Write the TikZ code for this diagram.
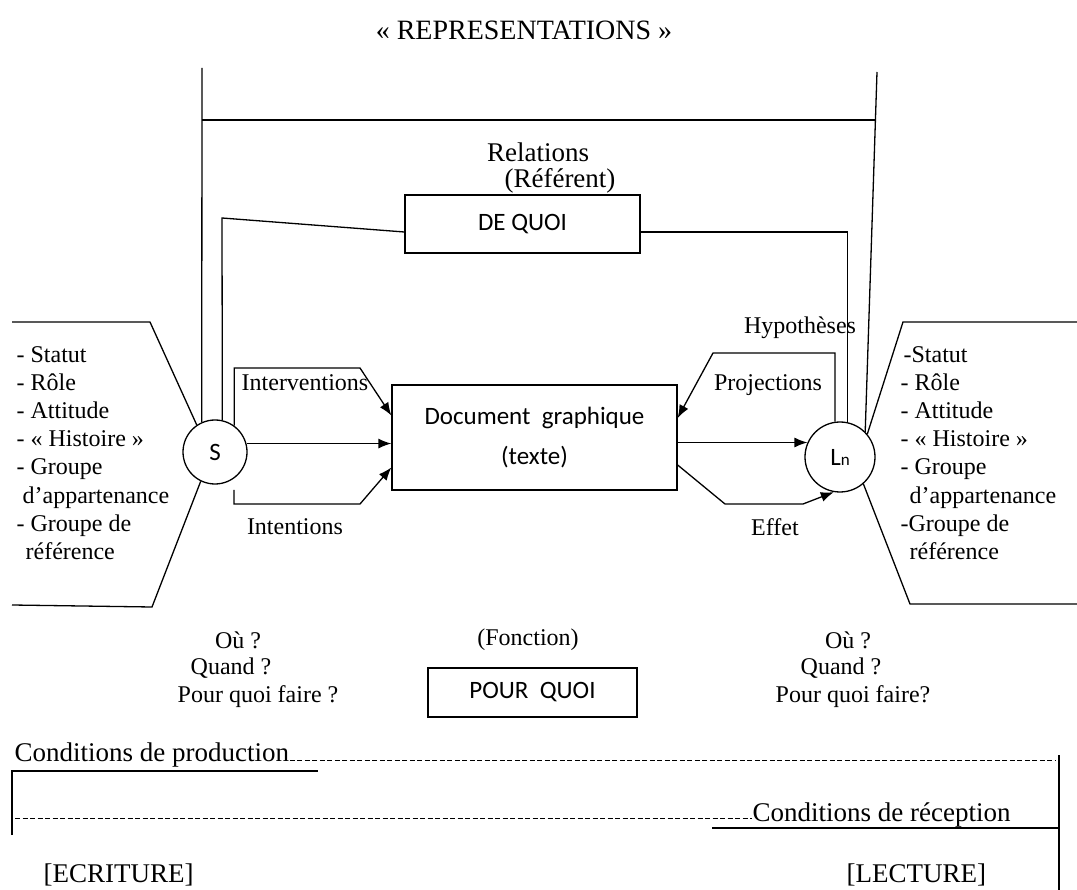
\documentclass[tikz,border=0pt]{standalone}
\usepackage{fontspec}
\setmainfont{Liberation Serif}
\setsansfont{Carlito}
\usetikzlibrary{arrows.meta}

\begin{document}
\begin{tikzpicture}[x=1pt,y=-1pt,line width=1.3pt,>={Latex[length=13pt,width=10pt]},
  txt/.style={font=\fontsize{24}{28.1}\selectfont,inner sep=0pt},
  big/.style={font=\fontsize{27}{30}\selectfont,inner sep=0pt},
  sans/.style={font=\sffamily\fontsize{25}{40}\selectfont},
  box/.style={draw,sans,inner sep=0pt},
  hyph/.style={line width=1pt,dash pattern=on 5pt off 2.5pt}]
\useasboundingbox (0,0) rectangle (1077,890);

\node[font=\fontsize{28}{32}\selectfont] (title) at (524,30) {« REPRESENTATIONS »};

% the two partners and the document
\node[draw,circle,minimum size=64pt,sans,inner sep=0pt] (S) at (215,452) {S};
\node[draw,circle,minimum size=70pt,sans,inner sep=0pt] (L) at (840,457) {L{\fontsize{17}{17}\selectfont n}};
\node[box,minimum width=235pt,minimum height=58pt] (quoi) at (522.5,224) {DE QUOI};
\node[box,minimum width=285pt,minimum height=105pt,align=center] (doc) at (534.5,437.5) {Document~~graphique\\(texte)};
\node[box,minimum width=209pt,minimum height=49pt] (pour) at (532.5,692.5) {POUR~~QUOI};

% outer frame
\coordinate (tl) at (202,68);
\coordinate (tr) at (877,72);
\coordinate (hl) at (202,120);
\coordinate (hr) at (875.5,120);
\draw (tl) -- (S.114);
\draw (tr) -- (L.45);
\draw (hl) -- (hr);

% referent
\coordinate (dq) at (222,218);
\draw ([yshift=-8pt]quoi.west) -- (dq) -- (S.77);
\draw ([yshift=-8pt]quoi.east) -| (L.78);
\node[big] (rel) at (538,152) {Relations};
\node[big] (ref) at (560,181) {(Référent)};

% S side
\coordinate (iv) at (360,368);
\coordinate (in0) at (234,490);
\coordinate (in) at (360,504);
\draw[->] (S.54) |- (iv) -- ([yshift=22pt]doc.west);
\draw[->] (S.15) -- (S.15 -| doc.west);
\draw[->] (in0) |- (in) -- ([yshift=-30pt]doc.west);
\node[txt] (interv) at (305,383) {Interventions};
\node[txt] (intent) at (295,527) {Intentions};

% L side
\coordinate (pj) at (713,353);
\coordinate (ef1) at (725,504);
\coordinate (ef2) at (803,504);
\draw[->] (L.98) |- (pj) -- ([yshift=19.5pt]doc.east);
\draw[->] (doc.east |- L.156) -- (L.156);
\draw[->] ([yshift=-27.5pt]doc.east) -- (ef1) -- (ef2) -- (L.-100);
\node[txt] (hyp) at (800,328) {Hypothèses};
\node[txt] (proj) at (768,385) {Projections};
\node[txt] (eff) at (775,527) {Effet};

% lists
\coordinate (la) at (12,322);
\coordinate (lb) at (150,322);
\coordinate (lc) at (152,607);
\coordinate (ld) at (12,605);
\draw (la) -- (lb) -- (S.124);
\draw (S.-116) -- (lc) -- (ld);
\node[txt,align=left,anchor=north west] (listS) at (16,346)
  {- Statut\\- Rôle\\- Attitude\\- « Histoire »\\- Groupe\\\hspace*{6pt}d’appartenance\\- Groupe de\\\hspace*{9pt}référence};
\coordinate (ra) at (1077,322);
\coordinate (rb) at (903,322);
\coordinate (rc) at (910,604);
\coordinate (rd) at (1077,604);
\draw (L.40) -- (rb) -- (ra);
\draw (L.-49) -- (rc) -- (rd);
\node[txt,align=left,anchor=north west] (listL) at (900,346)
  {\hspace*{3pt}-Statut\\- Rôle\\- Attitude\\- « Histoire »\\- Groupe\\\hspace*{9pt}d’appartenance\\-Groupe de\\\hspace*{9pt}référence};

% where, when
\node[txt] (ouS) at (238,640) {Où ?};
\node[txt] (qdS) at (231,668) {Quand ?};
\node[txt] (pqS) at (258,697) {Pour quoi faire ?};
\node[txt] (ouL) at (848,640) {Où ?};
\node[txt] (qdL) at (841,668) {Quand ?};
\node[txt] (pqL) at (853,697) {Pour quoi faire?};
\node[txt] (fonc) at (528,640) {(Fonction)};

% conditions
\node[big,anchor=west] (prod) at (14,755) {Conditions de production};
\node[big,anchor=west] (recep) at (752,815) {Conditions de réception};
\coordinate (p2) at (318,771);
\coordinate (p3) at (12,835);
\coordinate (pd) at (1055,760);
\coordinate (rd1) at (15,818);
\coordinate (r1) at (712,828);
\coordinate (r2) at (1059,828);
\coordinate (r3) at (1059,755);
\coordinate (r4) at (1059,890);
\draw (p3) |- (p2);
\draw[hyph] (prod.east |- pd) -- (pd);
\draw[hyph] (rd1) -- (rd1 -| recep.west);
\draw (r1) -- (r2);
\draw (r3) -- (r4);
\node[big,anchor=west] (ecr) at (43,875) {[ECRITURE]};
\node[big,anchor=west] (lect) at (846,875) {[LECTURE]};
\end{tikzpicture}
\end{document}
